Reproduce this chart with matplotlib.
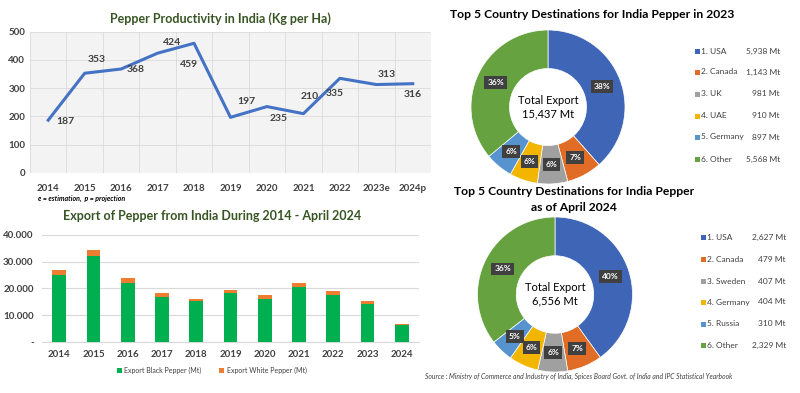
import matplotlib.pyplot as plt
import numpy as np

plt.rcParams['font.family'] = ['Lato', 'DejaVu Sans']

# ---------- data ----------
years_prod = ["2014", "2015", "2016", "2017", "2018", "2019", "2020", "2021", "2022", "2023e", "2024p"]
productivity = [187, 353, 368, 424, 459, 197, 235, 210, 335, 313, 316]

years_exp = ["2014", "2015", "2016", "2017", "2018", "2019", "2020", "2021", "2022", "2023", "2024"]
black_pepper = [25000, 32100, 22100, 16900, 15100, 18100, 16100, 20400, 17600, 14250, 6100]
white_pepper = [1900, 2300, 1650, 1200, 1000, 1300, 1300, 1500, 1400, 1000, 500]

dest23_names = ["1. USA", "2. Canada", "3. UK", "4. UAE", "5. Germany", "6. Other"]
dest23_vals = [5938, 1143, 981, 910, 897, 5568]
dest24_names = ["1. USA", "2. Canada", "3. Sweden", "4. Germany", "5. Russia", "6. Other"]
dest24_vals = [2627, 479, 407, 404, 310, 2329]

# ---------- style ----------
W, H = 800, 393
verde_titulo = "#375623"
cinza_txt = "#404040"
azul = "#4472c4"
pie_cores = ["#3f66b6", "#e06c26", "#a0a0a0", "#f2b600", "#5693cf", "#66a23f"]


def fx(x):
    return x / W


def fy(y):
    return 1 - y / H


fig = plt.figure(figsize=(8, 3.93), dpi=100)
fig.patch.set_facecolor("white")

# ---------- Gráfico 1: produtividade ----------
ax1 = fig.add_axes([fx(30), fy(173), fx(431) - fx(30), fy(31.7) - fy(173)])
x = np.arange(len(years_prod))
ax1.set_facecolor("#f3f3f3")
ax1.plot(x, productivity, color=azul, linewidth=2.2, zorder=3)
ax1.set_xlim(-0.5, len(x) - 0.5)
ax1.set_ylim(0, 500)
ax1.set_yticks(range(0, 501, 100))
ax1.set_xticks(x)
ax1.set_xticklabels(years_prod)
ax1.set_xticks(np.arange(-0.5, len(x), 0.5), minor=True)
ax1.grid(True, which="minor", axis="x", color="#dadada", linewidth=0.6)
ax1.grid(True, which="major", axis="y", color="#dadada", linewidth=0.6)
ax1.tick_params(axis="both", which="both", length=0)
ax1.tick_params(axis="x", pad=8)
for lab in ax1.get_xticklabels() + ax1.get_yticklabels():
    lab.set_fontsize(7)
    lab.set_color(cinza_txt)
    lab.set_fontweight("bold")
for s in ax1.spines.values():
    s.set_visible(False)
offsets = [(17, -1), (12, 14), (15, 0), (14, 11), (-5, -21), (16, 16), (12, -12), (6, 17), (-5, -15), (10, 10), (0, -11)]
for xi, v, off in zip(x, productivity, offsets):
    ax1.annotate(str(v), (xi, v), xytext=off, textcoords="offset pixels",
                 ha="center", va="center", fontsize=7.5, fontweight="bold", color=cinza_txt)
fig.text(fx(220), fy(19), "Pepper Productivity in India (Kg per Ha)", ha="center", va="center",
         fontsize=9, fontweight="bold", color=verde_titulo)
fig.text(fx(38), fy(198), "e = estimation,  p = projection", ha="left", va="center",
         fontsize=5, fontstyle="italic", fontweight="bold", color="black")

# ---------- Gráfico 2: exportação ----------
ax2 = fig.add_axes([fx(42), fy(341.7), fx(419) - fx(42), fy(235) - fy(341.7)])
xb = np.arange(len(years_exp))
ax2.bar(xb, black_pepper, width=0.4, color="#00b050", label="Export Black Pepper (Mt)", zorder=3)
ax2.bar(xb, white_pepper, width=0.4, bottom=black_pepper, color="#ed7d31",
        label="Export White Pepper (Mt)", zorder=3)
ax2.set_xlim(-0.5, len(xb) - 0.5)
ax2.set_ylim(0, 40000)
ax2.set_yticks([0, 10000, 20000, 30000, 40000])
ax2.set_yticklabels(["-", "10.000", "20.000", "30.000", "40.000"])
ax2.set_xticks(xb)
ax2.set_xticklabels(years_exp)
ax2.grid(True, axis="y", color="#d9d9d9", linewidth=0.8, zorder=0)
ax2.tick_params(axis="both", length=0)
ax2.tick_params(axis="x", pad=6)
ax2.tick_params(axis="y", pad=6)
for lab in ax2.get_xticklabels() + ax2.get_yticklabels():
    lab.set_fontsize(7)
    lab.set_color(cinza_txt)
    lab.set_fontweight("bold")
for k in ["top", "right", "left"]:
    ax2.spines[k].set_visible(False)
ax2.spines["bottom"].set_color("#d9d9d9")
ax2.legend(loc="center", bbox_to_anchor=(0.45, -0.27), ncol=2, frameon=False, fontsize=5,
           handlelength=0.7, handleheight=0.7, columnspacing=2.5, handletextpad=0.4,
           labelcolor=cinza_txt)
fig.text(fx(212), fy(216), "Export of Pepper from India During 2014 - April 2024", ha="center",
         va="center", fontsize=9, fontweight="bold", color=verde_titulo)


# ---------- Gráficos 3 e 4: rosquinhas ----------
def donut(cx, cy, r, valores, nomes, titulo_total, leg_x, leg_val_x, leg_ys):
    half = 80
    ax = fig.add_axes([fx(cx - half), fy(cy + half), fx(2 * half), fx(2 * half) * W / H])
    lim = half / r
    ax.pie(valores, colors=pie_cores, startangle=90, counterclock=False,
           radius=1, wedgeprops=dict(width=0.5, edgecolor="white", linewidth=0.5))
    total = sum(valores)
    ang = 90.0
    for v in valores:
        frac = v / total
        mid = np.deg2rad(ang - frac * 180)
        ang -= frac * 360
        ax.text(0.75 * np.cos(mid), 0.75 * np.sin(mid), f"{round(frac * 100)}%", ha="center",
                va="center", fontsize=6, fontweight="bold", color="white",
                bbox=dict(boxstyle="square,pad=0.35", facecolor="#404040", edgecolor="none"))
    ax.text(0, 0, titulo_total, ha="center", va="center", fontsize=8, color="black", linespacing=1.25)
    ax.set_xlim(-lim, lim)
    ax.set_ylim(-lim, lim)
    ax.set_aspect("equal")
    ax.axis("off")
    for nome, v, cor, ly in zip(nomes, valores, pie_cores, leg_ys):
        fig.patches.append(plt.Rectangle((fx(leg_x - 2.5), fy(ly + 2.5)), fx(5), fx(5) * W / H,
                                         transform=fig.transFigure, facecolor=cor, edgecolor="none"))
        fig.text(fx(leg_x + 4), fy(ly), nome, ha="left", va="center", fontsize=6, color=cinza_txt)
        fig.text(fx(leg_val_x), fy(ly), f"{v:,} Mt", ha="right", va="center", fontsize=6,
                 color=cinza_txt)


donut(548, 107, 77, dest23_vals, dest23_names, "Total Export\n15,437 Mt", 697, 780,
      [51, 72, 94, 116, 137, 159])
fig.text(fx(592), fy(15), "Top 5 Country Destinations for India Pepper in 2023", ha="center",
         va="center", fontsize=8.7, fontweight="bold", color="black")

donut(555, 294.5, 77.5, dest24_vals, dest24_names, "Total Export\n6,556 Mt", 703, 786,
      [237, 259, 281, 302, 324, 345])
fig.text(fx(574), fy(192), "Top 5 Country Destinations for India Pepper", ha="center",
         va="center", fontsize=8.7, fontweight="bold", color="black")
fig.text(fx(574), fy(208), "as of April 2024", ha="center", va="center", fontsize=8.7,
         fontweight="bold", color="black")

fig.text(fx(425), fy(376), "Source : Ministry of Commerce and Industry of India, Spices Board Govt. of India and IPC Statistical Yearbook",
         ha="left", va="center", fontsize=4.9, fontstyle="italic", color=cinza_txt)

fig.savefig("out.png", dpi=100)
